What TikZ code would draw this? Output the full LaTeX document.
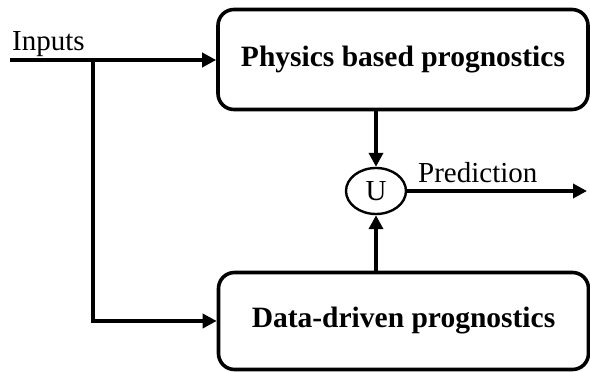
\documentclass[tikz,border=0pt]{standalone}
\usepackage{fontspec}
\setmainfont{Liberation Serif}
\usetikzlibrary{arrows.meta,shapes.geometric}
\tikzset{
  stagebox/.style={draw, line width=3.6pt, rounded corners=16pt, align=center,
    font=\fontsize{29.5}{33}\selectfont\bfseries},
  joinnode/.style={draw, ellipse, line width=2.4pt, inner sep=0pt,
    minimum width=60pt, minimum height=46pt, font=\fontsize{29}{32}\selectfont},
  flow/.style={line width=3.6pt, -{Triangle[length=14pt,width=14pt]}},
  lbl/.style={font=\fontsize{29}{32}\selectfont, inner sep=0pt}
}
\begin{document}
\begin{tikzpicture}[x=1pt,y=-1pt]
  \useasboundingbox (0,0) rectangle (590,372);
  % the two prognostic stages
  \node[stagebox, minimum width=370pt, minimum height=100pt] (phys) at (403,59.5) {Physics based prognostics};
  \node[stagebox, minimum width=370pt, minimum height=97pt] (data) at (403.5,321) {Data-driven prognostics};
  % fusion of both predictions
  \node[joinnode] (U) at (376,191) {U};
  % input feed
  \coordinate (in) at (10,60);
  \coordinate (br) at (93,60);
  \coordinate (out) at (587,191);
  \node[lbl, anchor=base west] (inlbl) at (12,50) {Inputs};
  \draw[flow] (in) -- (in -| phys.west);
  \draw[flow] (br) |- (data.west);
  % outputs into the fusion node
  \draw[flow] (phys.south -| U) -- (U.north);
  \draw[flow] (data.north -| U) -- (U.south);
  \draw[flow] (U.east) -- (out);
  \node[lbl, anchor=base west] (predlbl) at (418,182) {Prediction};
\end{tikzpicture}
\end{document}
